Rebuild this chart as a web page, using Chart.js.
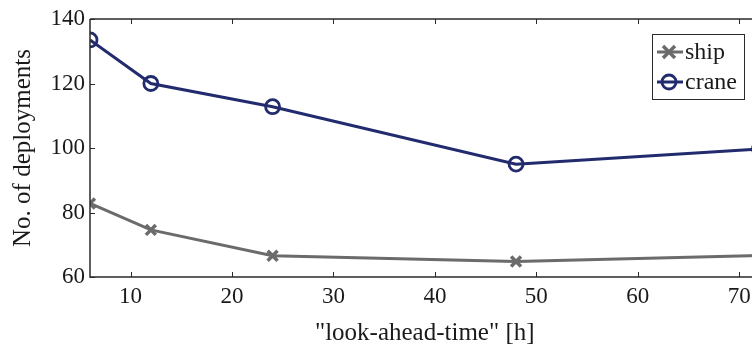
<!DOCTYPE html>
<html><head><meta charset="utf-8">
<script src="https://cdn.jsdelivr.net/npm/chart.js@4"></script>
<style>html,body{margin:0;padding:0;overflow:hidden;background:#fff;width:752px;height:348px}#wrap{width:770px;height:348px}</style>
</head><body><div id="wrap"><canvas id="c" width="770" height="348"></canvas></div>
<script>
const lookAhead = [6, 12, 24, 48, 72];
const shipValues = [82.8, 74.6, 66.6, 64.8, 66.7];
const craneValues = [133.5, 120.0, 112.8, 95.0, 99.7];
const xTicks = [10, 20, 30, 40, 50, 60, 70];
const yTicks = [60, 80, 100, 120, 140];
const seriesNames = ['ship', 'crane'];
const xTitle = '"look-ahead-time" [h]';
const yTitle = 'No. of deployments';

const FONT = '"Liberation Serif", "Times New Roman", serif';
const AXIS = '#2a2a2a';
const SHIP = '#6b6b6b';
const CRANE = '#222b6e';

const frame = {
  id: 'frame',
  afterDraw(chart) {
    const ctx = chart.ctx, a = chart.chartArea;
    const xs = chart.scales.x, ys = chart.scales.y;
    ctx.save();
    ctx.strokeStyle = AXIS; ctx.lineWidth = 1.5;
    ctx.beginPath();
    ctx.moveTo(a.left, a.top); ctx.lineTo(a.right, a.top);
    ctx.moveTo(a.left, a.top); ctx.lineTo(a.left, a.bottom); ctx.lineTo(a.right, a.bottom);
    ctx.stroke();
    ctx.lineWidth = 1;
    const L = 5;
    ctx.beginPath();
    xTicks.forEach(v => { const px = Math.round(xs.getPixelForValue(v)) + 0.5;
      ctx.moveTo(px, a.bottom); ctx.lineTo(px, a.bottom - L);
      ctx.moveTo(px, a.top); ctx.lineTo(px, a.top + L); });
    yTicks.forEach(v => { const py = Math.round(ys.getPixelForValue(v)) + 0.5;
      ctx.moveTo(a.left, py); ctx.lineTo(a.left + L, py); });
    ctx.stroke();
    // legend
    const bx = 652, by = 34, bw = 92, bh = 65;
    ctx.fillStyle = '#fff'; ctx.fillRect(bx, by, bw, bh);
    ctx.strokeStyle = AXIS; ctx.lineWidth = 1;
    ctx.strokeRect(bx + 0.5, by + 0.5, bw, bh);
    ctx.font = '24px ' + FONT; ctx.fillStyle = '#1a1a1a'; ctx.textBaseline = 'middle';
    chart.data.datasets.forEach((ds, i) => {
      const cy = by + 18 + i * 30;
      ctx.strokeStyle = ds.borderColor; ctx.lineWidth = 3;
      ctx.beginPath(); ctx.moveTo(bx + 5, cy); ctx.lineTo(bx + 31, cy); ctx.stroke();
      ctx.lineWidth = ds.pointBorderWidth;
      ctx.beginPath();
      if (ds.pointStyle === 'circle') { ctx.arc(bx + 17, cy, 7, 0, Math.PI * 2); }
      else { const r = 6; ctx.moveTo(bx + 17 - r, cy - r); ctx.lineTo(bx + 17 + r, cy + r); ctx.moveTo(bx + 17 - r, cy + r); ctx.lineTo(bx + 17 + r, cy - r); }
      ctx.stroke();
      ctx.fillText(ds.label, bx + 33, cy + 1);
    });
    ctx.restore();
  }
};

new Chart(document.getElementById('c'), {
  type: 'line',
  data: {
    datasets: [
      { label: seriesNames[0], data: lookAhead.map((x, i) => ({x, y: shipValues[i]})),
        borderColor: SHIP, borderWidth: 3, pointStyle: 'crossRot', pointRadius: 7,
        pointBorderWidth: 3.5, pointBorderColor: SHIP, pointBackgroundColor: 'transparent', tension: 0 },
      { label: seriesNames[1], data: lookAhead.map((x, i) => ({x, y: craneValues[i]})),
        borderColor: CRANE, borderWidth: 3, pointStyle: 'circle', pointRadius: 7,
        pointBorderWidth: 2.8, pointBorderColor: CRANE, pointBackgroundColor: 'transparent', tension: 0 }
    ]
  },
  options: {
    responsive: false, animation: false, devicePixelRatio: 1,
    layout: { padding: { top: 19, right: 10, left: 0, bottom: 0 } },
    plugins: { legend: { display: false }, tooltip: { enabled: false } },
    scales: {
      x: { type: 'linear', min: 6, max: 72,
        afterBuildTicks: s => { s.ticks = xTicks.map(v => ({value: v})); },
        afterFit: s => { s.height = 71; },
        grid: { display: false, drawTicks: false, tickLength: 0 }, border: { display: false },
        ticks: { font: { family: FONT, size: 23 }, color: '#1a1a1a', padding: 6, maxRotation: 0 },
        title: { display: true, text: xTitle, font: { family: FONT, size: 25 }, color: '#1a1a1a', padding: { top: 4, bottom: 0 } } },
      y: { min: 60, max: 140,
        afterBuildTicks: s => { s.ticks = yTicks.map(v => ({value: v})); },
        afterFit: s => { s.width = 90; },
        grid: { display: false, drawTicks: false, tickLength: 0 }, border: { display: false },
        ticks: { font: { family: FONT, size: 23 }, color: '#1a1a1a', padding: 5 },
        title: { display: true, text: yTitle, font: { family: FONT, size: 25 }, color: '#1a1a1a', padding: { top: 8, bottom: 6 } } }
    }
  },
  plugins: [frame]
});
</script></body></html>
